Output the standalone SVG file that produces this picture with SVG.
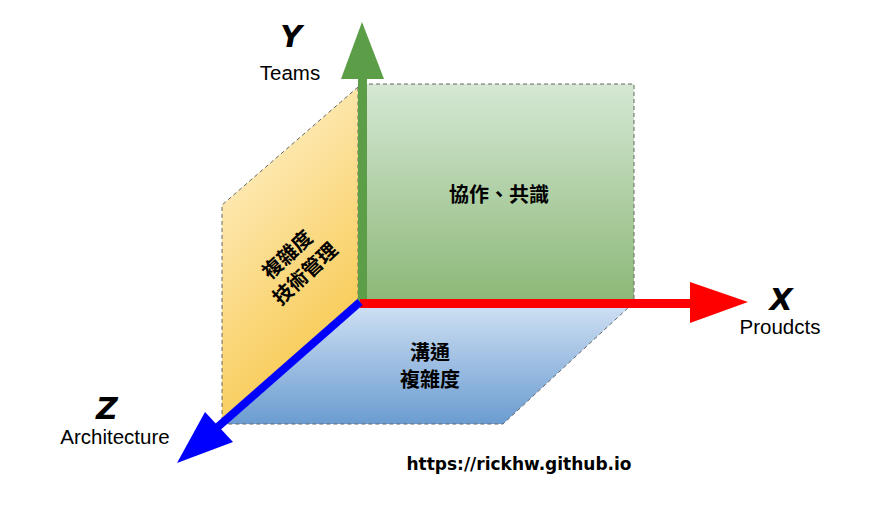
<svg xmlns="http://www.w3.org/2000/svg" width="881" height="506" viewBox="0 0 881 506">
<defs>
<linearGradient id="gGreen" x1="0" y1="0" x2="0" y2="1"><stop offset="0" stop-color="#d5e8d4"/><stop offset="1" stop-color="#8cb878"/></linearGradient>
<linearGradient id="gBlue" x1="0" y1="0" x2="0" y2="1"><stop offset="0" stop-color="#cfe0f3"/><stop offset="1" stop-color="#6b9cd1"/></linearGradient>
<linearGradient id="gYellow" x1="0" y1="0" x2="0.4" y2="1"><stop offset="0" stop-color="#fff4d6"/><stop offset="1" stop-color="#f8c94f"/></linearGradient>
<style>
.plane{stroke:#666;stroke-width:1;stroke-dasharray:4 3}
.lbl{font-family:"Liberation Sans",Arial,sans-serif;font-size:20.5px;fill:#000;text-anchor:middle}
.cjk{font-family:"Liberation Sans","Noto Sans CJK TC",sans-serif;font-size:20px;font-weight:bold;fill:#000;text-anchor:middle}
.axis{font-family:"DejaVu Sans",sans-serif;font-size:30px;font-weight:bold;font-style:italic;fill:#000;text-anchor:middle}
</style>
</defs>
<g id="plane-yz"><polygon class="plane" points="358,87 222,205 222,423 358,303" fill="url(#gYellow)"/></g>
<g id="plane-xy"><rect class="plane" x="362" y="84" width="272" height="216" fill="url(#gGreen)"/></g>
<g id="plane-xz"><polygon class="plane" points="360,304 630,306 503,424 222,424" fill="url(#gBlue)"/></g>
<g id="connectors">
<g id="axis-y"><rect x="358" y="76" width="9" height="226" fill="#5c9e48"/><polygon points="341,79 384,79 362,22" fill="#5c9e48"/></g>
<g id="axis-x"><rect x="360" y="299" width="332" height="9" fill="#ff0000"/><polygon points="690,282 690,323 748,302" fill="#ff0000"/></g>
<g id="axis-z"><line x1="360" y1="302" x2="212" y2="432" stroke="#0000ff" stroke-width="8"/><polygon points="177,463 205,412 233,442" fill="#0000ff"/></g>
</g>
<g id="label-y"><text class="axis" x="291" y="47">Y</text><text class="lbl" x="290" y="80">Teams</text></g>
<g id="label-x"><text class="axis" x="781" y="310">X</text><text class="lbl" x="780" y="334">Proudcts</text></g>
<g id="label-z"><text class="axis" x="107" y="419">Z</text><text class="lbl" x="115" y="444">Architecture</text></g>
<g id="text-xy"><text class="cjk" x="499" y="202">協作、共識</text></g>
<g id="text-xz"><text class="cjk" x="430" y="360">溝通</text><text class="cjk" x="430" y="387">複雜度</text></g>
<g id="text-yz" transform="rotate(-43 297 265)"><text class="cjk" x="297" y="258">複雜度</text><text class="cjk" x="297" y="284">技術管理</text></g>
<g id="url"><text x="519" y="470" style="font-family:'DejaVu Sans',sans-serif;font-size:17px;font-weight:bold;fill:#000;text-anchor:middle">https://rickhw.github.io</text></g>
</svg>
